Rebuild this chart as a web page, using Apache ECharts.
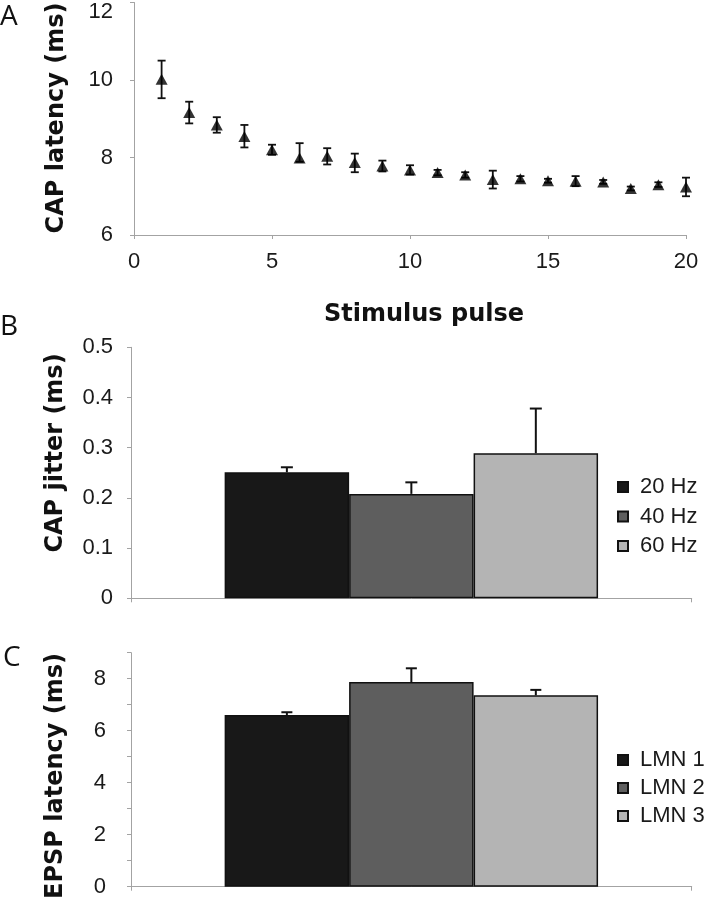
<!DOCTYPE html>
<html>
<head>
<meta charset="utf-8">
<script src="https://cdn.jsdelivr.net/npm/echarts@6/dist/echarts.min.js"></script>
<style>
html,body{margin:0;padding:0;background:#fff;}
#chart{width:705px;height:899px;}
</style>
</head>
<body>
<div id="chart"></div>
<script>
// ---- Panel A data ----
const pulses = [1,2,3,4,5,6,7,8,9,10,11,12,13,14,15,16,17,18,19,20];
const capLatency = [10.02,9.16,8.84,8.54,8.20,7.99,8.03,7.87,7.78,7.68,7.61,7.55,7.43,7.45,7.40,7.39,7.37,7.20,7.30,7.24];
const capErrPlus  = [0.48,0.28,0.20,0.30,0.13,0.38,0.21,0.23,0.14,0.12,0.07,0.07,0.23,0.07,0.05,0.13,0.05,0.05,0.06,0.24];
const capErrMinus = [0.49,0.28,0.20,0.28,0.13,0.10,0.21,0.25,0.14,0.12,0.07,0.07,0.23,0.07,0.05,0.13,0.05,0.05,0.06,0.24];
const aYTicks = [6,8,10,12];
const aXTicks = [0,5,10,15,20];

// ---- Panel B data ----
const jitterNames = ['20 Hz','40 Hz','60 Hz'];
const jitterValues = [0.251,0.208,0.289];
const jitterErr = [0.010,0.023,0.089];

// ---- Panel C data ----
const epspNames = ['LMN 1','LMN 2','LMN 3'];
const epspValues = [6.60,7.87,7.36];
const epspErr = [0.11,0.53,0.21];

const barColors = ['#181818','#5e5e5e','#b4b4b4'];
const BAR_FRAC = 0.222;
const axisCol = '#a3a3a3';
const labelFont = '"Liberation Sans", Arial, sans-serif';
const titleFont = '"DejaVu Sans", sans-serif';
const letterFont = '"Open Sans", "Noto Sans", sans-serif';

const chart = echarts.init(document.getElementById('chart'), null, {renderer:'canvas'});

function valueAxisBase(extra){
  return Object.assign({
    type:'value',
    axisLine:{show:true, lineStyle:{color:axisCol, width:1}},
    axisTick:{show:true, length:4, lineStyle:{color:axisCol}},
    splitLine:{show:false},
    axisLabel:{fontSize:22, fontFamily:labelFont, color:'#1a1a1a'}
  }, extra);
}
function catAxis(grid){
  return {
    gridIndex:grid, type:'category', data:[''],
    axisLine:{show:true, lineStyle:{color:axisCol, width:1}},
    axisTick:{show:true, length:4, lineStyle:{color:axisCol}},
    axisLabel:{show:false}, splitLine:{show:false}
  };
}

function barErrRender(capHalf){
  return function(params, api){
    const k = api.value(3);
    const band = params.coordSys.width;
    const p0 = api.coord([0, api.value(1)]);
    const p1 = api.coord([0, api.value(2)]);
    const x = p0[0] + (k-1)*band*BAR_FRAC;
    const st = {stroke:'#111', lineWidth:2};
    return {type:'group', children:[
      {type:'line', shape:{x1:x,y1:p0[1],x2:x,y2:p1[1]}, style:st},
      {type:'line', shape:{x1:x-capHalf,y1:p1[1],x2:x+capHalf,y2:p1[1]}, style:st}
    ]};
  };
}

const barSeries = [];
jitterNames.forEach((n,i)=>{
  barSeries.push({type:'bar', name:n, xAxisIndex:1, yAxisIndex:1, data:[jitterValues[i]],
    barWidth:(BAR_FRAC*100)+'%', barGap:'0%',
    itemStyle:{color:barColors[i], borderColor:'#111', borderWidth:1.5}, z:2});
});
epspNames.forEach((n,i)=>{
  barSeries.push({type:'bar', name:n, xAxisIndex:2, yAxisIndex:2, data:[epspValues[i]],
    barWidth:(BAR_FRAC*100)+'%', barGap:'0%',
    itemStyle:{color:barColors[i], borderColor:'#111', borderWidth:1.5}, z:2});
});

const option = {
  animation:false,
  backgroundColor:'#fff',
  grid:[
    {left:134, top:2.5, width:552, height:232.5, outerBoundsMode:'none'},
    {left:131, top:347.3, width:560.7, height:251, outerBoundsMode:'none'},
    {left:131, top:652.7, width:560.7, height:234, outerBoundsMode:'none'}
  ],
  xAxis:[
    valueAxisBase({gridIndex:0, min:aXTicks[0], max:aXTicks[aXTicks.length-1], interval:aXTicks[1]-aXTicks[0],
      axisLabel:{fontSize:22, fontFamily:labelFont, color:'#1a1a1a', margin:16},
      name:'Stimulus pulse', nameLocation:'middle', nameGap:68,
      nameTextStyle:{fontFamily:titleFont, fontWeight:'bold', fontSize:24, color:'#111', padding:[0,0,0,28]}}),
    catAxis(1),
    catAxis(2)
  ],
  yAxis:[
    valueAxisBase({gridIndex:0, min:aYTicks[0], max:aYTicks[aYTicks.length-1], interval:aYTicks[1]-aYTicks[0],
      axisLabel:{fontSize:22, fontFamily:labelFont, color:'#1a1a1a', margin:21,
        formatter:(v)=> v===aYTicks[aYTicks.length-1] ? '{t|'+v+'}' : String(v),
        rich:{t:{fontSize:22, fontFamily:labelFont, color:'#1a1a1a', padding:[18,0,0,0]}}}}),
    valueAxisBase({gridIndex:1, min:0, max:0.5, interval:0.1,
      axisLabel:{fontSize:22, fontFamily:labelFont, color:'#1a1a1a', margin:18}}),
    valueAxisBase({gridIndex:2, min:0, max:9, interval:1,
      axisLabel:{fontSize:22, fontFamily:labelFont, color:'#1a1a1a', margin:25,
        formatter:(v)=> (v%2===0 ? String(v) : '')}})
  ],
  legend:[
    {data:jitterNames, orient:'vertical', left:612, top:471, itemWidth:10, itemHeight:10, itemGap:7.5,
      icon:'rect', selectedMode:false,
      textStyle:{fontSize:22, fontFamily:labelFont, color:'#1a1a1a', padding:[0,0,0,7]}},
    {data:epspNames, orient:'vertical', left:612, top:744, itemWidth:10, itemHeight:10, itemGap:6,
      icon:'rect', selectedMode:false,
      textStyle:{fontSize:22, fontFamily:labelFont, color:'#1a1a1a', padding:[0,0,0,7]}}
  ],
  graphic:[
    {type:'text', left:0, top:3, style:{text:'A', fontFamily:letterFont, fontSize:28, fill:'#111'}},
    {type:'text', left:0, top:313, style:{text:'B', fontFamily:letterFont, fontSize:28, fill:'#111'}},
    {type:'text', left:3, top:644, style:{text:'C', fontFamily:letterFont, fontSize:28, fill:'#111'}},
    {type:'text', x:56.5, y:118, rotation:Math.PI/2,
      style:{text:'CAP latency (ms)', fontFamily:titleFont, fontWeight:'bold', fontSize:24, fill:'#111', textAlign:'center', textVerticalAlign:'middle'}},
    {type:'text', x:56, y:453, rotation:Math.PI/2,
      style:{text:'CAP jitter (ms)', fontFamily:titleFont, fontWeight:'bold', fontSize:24, fill:'#111', textAlign:'center', textVerticalAlign:'middle'}},
    {type:'text', x:56, y:776, rotation:Math.PI/2,
      style:{text:'EPSP latency (ms)', fontFamily:titleFont, fontWeight:'bold', fontSize:24, fill:'#111', textAlign:'center', textVerticalAlign:'middle'}}
  ],
  series:[
    {type:'custom', xAxisIndex:0, yAxisIndex:0, z:2,
      data:pulses.map((p,i)=>[p, capLatency[i]-capErrMinus[i], capLatency[i]+capErrPlus[i]]),
      encode:{x:0, y:[1,2]},
      renderItem:function(params, api){
        const lo = api.coord([api.value(0), api.value(1)]);
        const hi = api.coord([api.value(0), api.value(2)]);
        const st = {stroke:'#111', lineWidth:1.8};
        const c = 4;
        return {type:'group', children:[
          {type:'line', shape:{x1:lo[0],y1:lo[1],x2:hi[0],y2:hi[1]}, style:st},
          {type:'line', shape:{x1:hi[0]-c,y1:hi[1],x2:hi[0]+c,y2:hi[1]}, style:st},
          {type:'line', shape:{x1:lo[0]-c,y1:lo[1],x2:lo[0]+c,y2:lo[1]}, style:st}
        ]};
      }
    },
    {type:'scatter', xAxisIndex:0, yAxisIndex:0, z:3,
      data:pulses.map((p,i)=>[p, capLatency[i]]),
      symbol:'triangle', symbolSize:[12,11], itemStyle:{color:'#000'}},
    ...barSeries,
    {type:'custom', xAxisIndex:1, yAxisIndex:1, z:4,
      data:jitterValues.map((v,i)=>[0, v, v+jitterErr[i], i]),
      encode:{x:0, y:[1,2]}, renderItem:barErrRender(6)},
    {type:'custom', xAxisIndex:2, yAxisIndex:2, z:4,
      data:epspValues.map((v,i)=>[0, v, v+epspErr[i], i]),
      encode:{x:0, y:[1,2]}, renderItem:barErrRender(5.5)}
  ]
};
chart.setOption(option);
</script>
</body>
</html>
